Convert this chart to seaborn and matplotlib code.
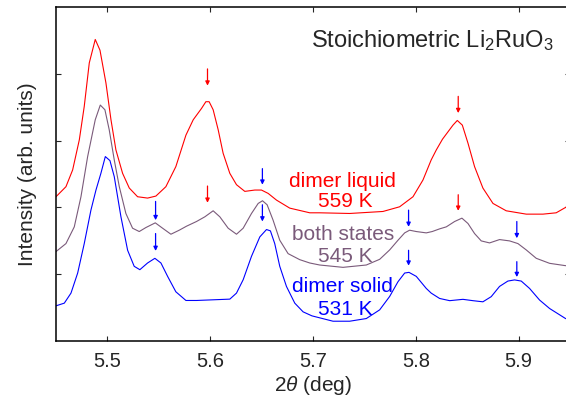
import numpy as np
import pandas as pd
import seaborn as sns
import matplotlib
matplotlib.use('Agg')
import matplotlib.pyplot as plt

# curves: 2theta (deg), intensity (offset, arb. units)
liquid_x = [5.4500, 5.4597, 5.4662, 5.4727, 5.4775, 5.4824, 5.4882, 5.4928, 5.4986, 5.5035,
            5.5083, 5.5148, 5.5213, 5.5294, 5.5391, 5.5472, 5.5569, 5.5666, 5.5764, 5.5835,
            5.5916, 5.5958, 5.5990, 5.6029, 5.6078, 5.6126, 5.6191, 5.6256, 5.6337, 5.6434,
            5.6499, 5.6564, 5.6645, 5.6774, 5.6969, 5.7065, 5.7357, 5.7681, 5.7843, 5.7973,
            5.8070, 5.8150, 5.8200, 5.8260, 5.8362, 5.8404, 5.8453, 5.8508, 5.8572, 5.8653,
            5.8751, 5.8880, 5.9075, 5.9237, 5.9366, 5.9457, 5.9500]
liquid_y = [2.16, 2.31, 2.56, 3.01, 3.51, 4.16, 4.51, 4.35, 3.86, 3.31,
            2.86, 2.51, 2.29, 2.16, 2.14, 2.17, 2.31, 2.61, 3.08, 3.31,
            3.48, 3.58, 3.58, 3.46, 3.16, 2.81, 2.51, 2.34, 2.24, 2.26,
            2.26, 2.21, 2.11, 1.99, 1.92, 1.92, 1.91, 1.94, 2.01, 2.16,
            2.41, 2.71, 2.86, 3.02, 3.23, 3.30, 3.23, 2.96, 2.61, 2.29,
            2.06, 1.95, 1.90, 1.90, 1.92, 2.00, 2.05]

both_x = [5.4500, 5.4597, 5.4678, 5.4743, 5.4808, 5.4882, 5.4931, 5.4976, 5.5018, 5.5067,
          5.5116, 5.5180, 5.5245, 5.5310, 5.5375, 5.5466, 5.5537, 5.5618, 5.5699, 5.5770,
          5.5867, 5.5948, 5.6029, 5.6094, 5.6175, 5.6256, 5.6321, 5.6402, 5.6467, 5.6509,
          5.6554, 5.6612, 5.6677, 5.6758, 5.6871, 5.6969, 5.7065, 5.7292, 5.7519, 5.7649,
          5.7746, 5.7827, 5.7892, 5.7940, 5.8005, 5.8102, 5.8160, 5.8232, 5.8297, 5.8378,
          5.8449, 5.8508, 5.8572, 5.8637, 5.8718, 5.8815, 5.8913, 5.8994, 5.9075, 5.9172,
          5.9302, 5.9457, 5.9500]
both_y = [1.34, 1.46, 1.71, 2.16, 2.76, 3.31, 3.53, 3.46, 3.16, 2.71,
          2.31, 1.91, 1.69, 1.64, 1.70, 1.77, 1.69, 1.60, 1.66, 1.72,
          1.79, 1.86, 1.95, 1.86, 1.69, 1.60, 1.69, 1.91, 2.06, 2.10,
          2.04, 1.81, 1.51, 1.31, 1.22, 1.17, 1.14, 1.105, 1.14, 1.225,
          1.365, 1.51, 1.62, 1.66, 1.64, 1.62, 1.64, 1.68, 1.71, 1.79,
          1.84, 1.76, 1.61, 1.50, 1.47, 1.52, 1.50, 1.46, 1.365, 1.24,
          1.165, 1.13, 1.13]

solid_x = [5.4500, 5.4581, 5.4646, 5.4711, 5.4775, 5.4840, 5.4889, 5.4937, 5.4980, 5.5025,
           5.5067, 5.5132, 5.5197, 5.5261, 5.5316, 5.5391, 5.5462, 5.5521, 5.5586, 5.5666,
           5.5764, 5.5867, 5.6029, 5.6191, 5.6256, 5.6321, 5.6402, 5.6483, 5.6548, 5.6586,
           5.6628, 5.6677, 5.6742, 5.6823, 5.6904, 5.6990, 5.7195, 5.7357, 5.7519, 5.7649,
           5.7746, 5.7827, 5.7892, 5.7934, 5.8005, 5.8102, 5.8150, 5.8232, 5.8330, 5.8459,
           5.8556, 5.8653, 5.8734, 5.8815, 5.8896, 5.8961, 5.9026, 5.9107, 5.9204, 5.9302,
           5.9457, 5.9500]
solid_y = [0.53, 0.57, 0.72, 1.02, 1.46, 1.96, 2.26, 2.51, 2.76, 2.70,
           2.46, 1.86, 1.36, 1.12, 1.07, 1.17, 1.24, 1.17, 0.97, 0.74,
           0.61, 0.61, 0.62, 0.63, 0.72, 0.92, 1.27, 1.56, 1.67, 1.65,
           1.46, 1.12, 0.82, 0.57, 0.44, 0.38, 0.30, 0.30, 0.34, 0.47,
           0.67, 0.89, 1.02, 1.03, 0.97, 0.79, 0.72, 0.64, 0.607, 0.627,
           0.607, 0.59, 0.667, 0.82, 0.90, 0.917, 0.90, 0.79, 0.617, 0.49,
           0.34, 0.32]

# peak markers: x position, arrow top, arrow tip
red_arrow_x = [5.5974, 5.8413, 5.5974, 5.8413]
red_arrow_top = [4.07, 3.66, 2.32, 2.19]
red_arrow_tip = [3.82, 3.41, 2.07, 1.95]
blue_arrow_x = [5.6508, 5.5469, 5.6508, 5.793, 5.8983, 5.5469, 5.793, 5.8983]
blue_arrow_top = [2.58, 2.09, 2.04, 1.96, 1.79, 1.61, 1.36, 1.19]
blue_arrow_tip = [2.34, 1.81, 1.79, 1.71, 1.54, 1.35, 1.13, 0.96]

labels = ['dimer liquid', 'both states', 'dimer solid']
temps = ['559 K', '545 K', '531 K']
colors = ['#ff0000', '#7a5a7a', '#0000ff']

sns.set_theme(style='ticks')
plt.rcParams['font.family'] = ['Liberation Sans', 'DejaVu Sans']
plt.rcParams['mathtext.fontset'] = 'custom'
plt.rcParams['mathtext.rm'] = 'Liberation Sans'
plt.rcParams['mathtext.it'] = 'Liberation Sans:italic'

fig = plt.figure(figsize=(5.66, 4.05), dpi=100)
ax = fig.add_axes([0.0989, 0.1573, 0.9081, 0.8262])

frames = []
for name, xs, ys in zip(labels, [liquid_x, both_x, solid_x], [liquid_y, both_y, solid_y]):
    frames.append(pd.DataFrame({'two_theta': xs, 'intensity': ys, 'state': name}))
df = pd.concat(frames, ignore_index=True)

sns.lineplot(data=df, x='two_theta', y='intensity', hue='state', hue_order=labels,
             palette=colors, sort=False, estimator=None, linewidth=0.8, legend=False, ax=ax)

for xs, top, tip, col in [(red_arrow_x, red_arrow_top, red_arrow_tip, colors[0]),
                          (blue_arrow_x, blue_arrow_top, blue_arrow_tip, colors[2])]:
    for xa, y0, y1 in zip(xs, top, tip):
        ax.annotate('', xy=(xa, y1), xytext=(xa, y0),
                    arrowprops=dict(arrowstyle='-|>', color=col, lw=0.9,
                                    mutation_scale=6, shrinkA=0, shrinkB=0))

# state labels
label_y = [2.39, 1.59, 0.82]
temp_y = [2.09, 1.26, 0.48]
for name, t, ly, ty, col in zip(labels, temps, label_y, temp_y, colors):
    ax.text(5.729, ly, name, color=col, fontsize=15, ha='center', va='center')
    ax.text(5.731, ty, t, color=col, fontsize=15, ha='center', va='center')

ax.text(5.934, 4.40, 'Stoichiometric Li$_2$RuO$_3$', fontsize=17, ha='right', va='baseline')

ax.set_xlim(5.45, 5.95)
ax.set_ylim(0, 5)
ax.set_xticks([5.5, 5.6, 5.7, 5.8, 5.9])
ax.set_yticks([1, 2, 3, 4])
ax.set_yticklabels([])
ax.tick_params(direction='in', length=3.5, width=0.8, labelsize=14.5,
               top=True, right=True, pad=8)
for s in ax.spines.values():
    s.set_linewidth(1.1)
    s.set_color('black')

ax.set_xlabel(r'2$\theta$ (deg)', fontsize=15, labelpad=2)
ax.set_ylabel('Intensity (arb. units)', fontsize=15, labelpad=6)

fig.savefig('out.png', dpi=100)
